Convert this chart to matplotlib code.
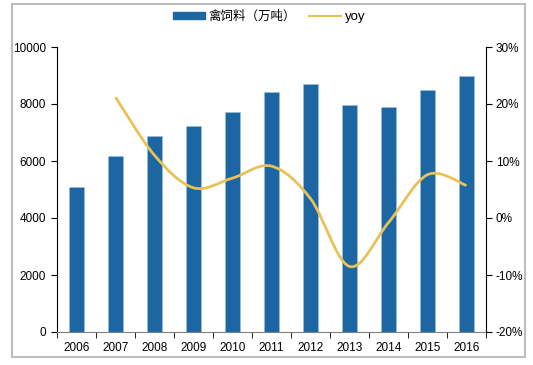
import numpy as np
import matplotlib.pyplot as plt
from matplotlib.path import Path
from matplotlib.patches import PathPatch, Rectangle
from matplotlib.lines import Line2D

plt.rcParams['font.family'] = ['Liberation Sans', 'Noto Sans CJK SC', 'DejaVu Sans']

# data
years = ['2006', '2007', '2008', '2009', '2010', '2011',
         '2012', '2013', '2014', '2015', '2016']
feed = [5100, 6170, 6860, 7220, 7720, 8420, 8710, 7965, 7905, 8500, 8990]
yoy = [np.nan, 21.2, 11.0, 5.3, 7.0, 9.1, 3.4, -8.5, -0.8, 7.6, 5.7]

bar_color = '#1c67a3'
line_color = '#e8c257'

fig = plt.figure(figsize=(5.33, 3.65), dpi=100)
fig.patches.append(Rectangle((12 / 533, 8 / 365), 513 / 533, 353 / 365,
                             transform=fig.transFigure, fill=False,
                             edgecolor='#bdbdbd', linewidth=1.5))

ax = fig.add_axes([57 / 533, 33 / 365, 429 / 533, 285 / 365])
x = np.arange(len(years))
ax.bar(x, feed, width=0.39, color=bar_color, edgecolor='#9cc0de', linewidth=0.4)
ax.set_xlim(-0.5, len(years) - 0.5)
ax.set_ylim(0, 10000)
ax.set_yticks(range(0, 10001, 2000))
ax.set_xticks(x)
ax.set_xticklabels(years)
ax.set_xticks(np.arange(-0.5, len(years), 1), minor=True)
ax.tick_params(axis='x', which='major', length=0, pad=7, labelsize=8.5)
ax.tick_params(axis='x', which='minor', length=4, direction='out')
ax.tick_params(axis='y', length=4, direction='out', labelsize=8.5, pad=4)
for s in ['top', 'right']:
    ax.spines[s].set_visible(False)
ax.spines['left'].set_linewidth(0.8)
ax.spines['bottom'].set_color('#808080')

ax2 = ax.twinx()
ax2.set_ylim(-20, 30)
ax2.set_yticks(range(-20, 31, 10))
ax2.set_yticklabels([f'{v}%' for v in range(-20, 31, 10)])
ax2.tick_params(axis='y', length=4, direction='out', labelsize=8.5, pad=3)
for s in ['top', 'left', 'bottom']:
    ax2.spines[s].set_visible(False)
ax2.spines['right'].set_linewidth(0.8)

# smoothed line (Catmull-Rom style bezier through the data points)
px = x[1:].astype(float)
py = np.array(yoy[1:])
verts = [(px[0], py[0])]
codes = [Path.MOVETO]
n = len(px)
for i in range(n - 1):
    p0 = (px[max(i - 1, 0)], py[max(i - 1, 0)])
    p1 = (px[i], py[i])
    p2 = (px[i + 1], py[i + 1])
    p3 = (px[min(i + 2, n - 1)], py[min(i + 2, n - 1)])
    c1 = (p1[0] + (p2[0] - p0[0]) / 6, p1[1] + (p2[1] - p0[1]) / 6)
    c2 = (p2[0] - (p3[0] - p1[0]) / 6, p2[1] - (p3[1] - p1[1]) / 6)
    verts += [c1, c2, p2]
    codes += [Path.CURVE4] * 3
ax2.add_patch(PathPatch(Path(verts, codes), fill=False,
                        edgecolor=line_color, linewidth=2))

handles = [Rectangle((0, 0), 1, 1, color=bar_color),
           Line2D([0], [0], color=line_color, linewidth=1.5)]
leg = fig.legend(handles, ['禽饲料（万吨）', 'yoy'], loc='center',
                 bbox_to_anchor=(0.505, 0.955), ncol=2, frameon=False,
                 fontsize=9, handlelength=2.6, handleheight=0.5,
                 columnspacing=1.0, handletextpad=0.3)
texts = leg.get_texts()
texts[0].set_family(['Noto Sans CJK SC', 'DejaVu Sans'])
texts[1].set_family(['Liberation Sans', 'DejaVu Sans'])
texts[1].set_fontsize(9.5)

fig.savefig('out.png', dpi=100)
